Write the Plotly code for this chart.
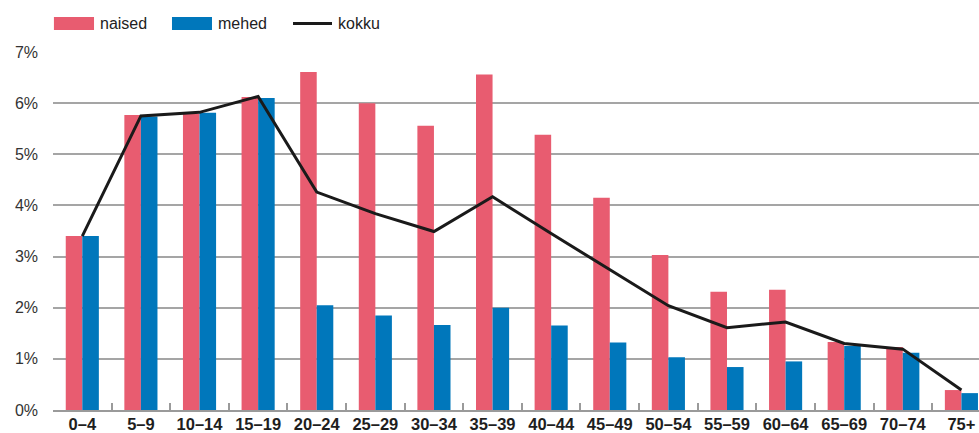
import plotly.graph_objects as go

categories = ["0–4", "5–9", "10–14", "15–19", "20–24", "25–29", "30–34", "35–39",
              "40–44", "45–49", "50–54", "55–59", "60–64", "65–69", "70–74", "75+"]
naised = [3.40, 5.77, 5.79, 6.12, 6.61, 6.00, 5.56, 6.56, 5.38, 4.15, 3.03, 2.31, 2.35, 1.33, 1.23, 0.39]
mehed = [3.40, 5.74, 5.81, 6.10, 2.05, 1.85, 1.66, 2.00, 1.65, 1.32, 1.03, 0.84, 0.95, 1.25, 1.12, 0.33]
kokku = [3.40, 5.75, 5.82, 6.13, 4.26, 3.84, 3.49, 4.17, 3.45, 2.74, 2.04, 1.61, 1.72, 1.30, 1.19, 0.39]
y_ticks = [0, 1, 2, 3, 4, 5, 6, 7]
y_tick_labels = ["0%", "1%", "2%", "3%", "4%", "5%", "6%", "7%"]

PINK = "#E85C70"
BLUE = "#0077BB"
LINE = "#1a1a1a"
FONT = "Liberation Sans, Arial, sans-serif"

fig = go.Figure()
fig.add_trace(go.Bar(x=categories, y=naised, name="naised", marker_color=PINK,
                     marker_line_width=0, showlegend=False))
fig.add_trace(go.Bar(x=categories, y=mehed, name="mehed", marker_color=BLUE,
                     marker_line_width=0, showlegend=False))
fig.add_trace(go.Scatter(x=categories, y=kokku, name="kokku", mode="lines",
                         line=dict(color=LINE, width=3), showlegend=False, cliponaxis=False))

fig.update_layout(
    width=979, height=433,
    margin=dict(l=53, r=0, t=52, b=23, autoexpand=False),
    paper_bgcolor="white", plot_bgcolor="white",
    barmode="group", bargap=0.435, bargroupgap=0,
    font=dict(family=FONT, size=16, color="#333333"),
)
fig.update_xaxes(
    type="category", range=[-0.5, 15.30],
    showgrid=False, showline=True, linecolor="#9a9a9a", linewidth=2,
    ticks="inside", tickson="boundaries", ticklen=7, tickcolor="#9a9a9a", tickwidth=1.5,
    ticklabelstandoff=-2,
    tickfont=dict(family=FONT, size=16.5, color="#1e1e1e", weight="bold"),
    automargin=False, zeroline=False,
)
fig.update_yaxes(
    range=[0, 7], tickvals=y_ticks, ticktext=y_tick_labels,
    showgrid=True, gridcolor="#a5a5a5", gridwidth=1.5,
    showline=False, zeroline=False, ticks="", ticklabelstandoff=14,
    tickfont=dict(family=FONT, size=16, color="#333333"),
    automargin=False,
)

# custom legend (matching reference swatch geometry)
legend_items = [("naised", "bar", PINK, 0.001, 0.0443, 0.0486),
                ("mehed", "bar", BLUE, 0.1285, 0.1717, 0.176),
                ("kokku", "line", LINE, 0.2592, 0.3013, 0.3056)]
for label, kind, color, x0, x1, xt in legend_items:
    if kind == "bar":
        fig.add_shape(type="rect", xref="paper", yref="paper", x0=x0, x1=x1,
                      y0=1.0615, y1=1.0978, fillcolor=color, line_width=0)
    else:
        fig.add_shape(type="line", xref="paper", yref="paper", x0=x0, x1=x1,
                      y0=1.0796, y1=1.0796, line=dict(color=color, width=3))
    fig.add_annotation(text=label, xref="paper", yref="paper", x=xt, y=1.0796,
                       xanchor="left", yanchor="middle", showarrow=False,
                       font=dict(family=FONT, size=16, color="#222222"))

fig.write_html("out.html", config={"displayModeBar": False},
               post_script="document.body.style.margin='0';document.body.style.overflow='hidden';")
